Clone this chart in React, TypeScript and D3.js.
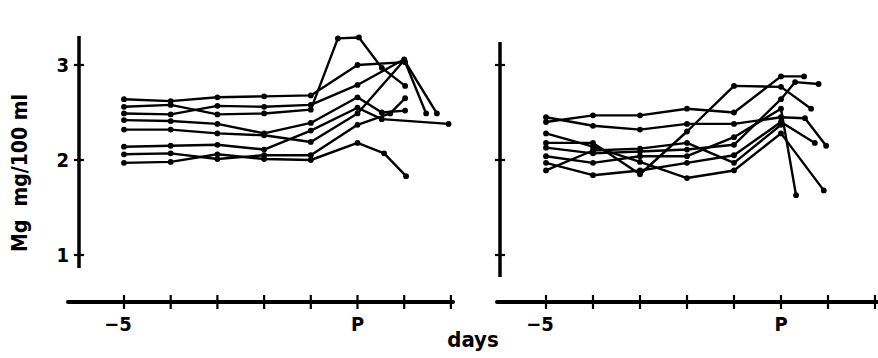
import * as d3 from "d3";

// Mg (mg/100 ml) per animal, [day relative to P, value]
const left1 = [[-5, 2.64], [-4, 2.62], [-3, 2.66], [-2, 2.67], [-1, 2.68], [0, 3.0], [1.02, 3.03], [1.47, 2.49]];
const left2 = [[-5, 2.56], [-4, 2.58], [-3, 2.48], [-2, 2.49], [-1, 2.53], [-0.42, 3.28], [0.03, 3.29], [0.52, 2.97], [1.02, 2.78]];
const left3 = [[-5, 2.49], [-4, 2.48], [-3, 2.57], [-2, 2.56], [-1, 2.58], [0, 2.79], [1.0, 3.06]];
const left4 = [[-5, 2.42], [-4, 2.41], [-3, 2.38], [-2, 2.28], [-1, 2.39], [0, 2.66], [0.52, 2.5], [1.02, 2.52]];
const left5 = [[-5, 2.32], [-4, 2.32], [-3, 2.28], [-2, 2.26], [-1, 2.19], [0, 2.49], [1.0, 3.05], [1.7, 2.49]];
const left6 = [[-5, 2.14], [-4, 2.15], [-3, 2.16], [-2, 2.11], [-1, 2.31], [0, 2.55], [0.52, 2.43], [1.95, 2.38]];
const left7 = [[-5, 2.06], [-4, 2.07], [-3, 2.01], [-2, 2.05], [-1, 2.05], [0, 2.37], [0.7, 2.49], [1.02, 2.65]];
const left8 = [[-5, 1.97], [-4, 1.98], [-3, 2.06], [-2, 2.01], [-1, 2.0], [0, 2.18], [0.57, 2.07], [1.04, 1.83]];

const right1 = [[-5, 2.4], [-4, 2.47], [-3, 2.47], [-2, 2.54], [-1, 2.5], [0, 2.88], [0.49, 2.88]];
const right2 = [[-5, 2.45], [-4, 2.36], [-3, 2.32], [-2, 2.38], [-1, 2.38], [0, 2.45], [0.51, 2.44], [0.96, 2.15]];
const right3 = [[-5, 2.28], [-4, 2.14], [-3, 1.98], [-2, 1.81], [-1, 1.89], [0, 2.28], [0.91, 1.68]];
const right4 = [[-5, 2.18], [-4, 2.18], [-3, 1.85], [-2, 2.3], [-1, 2.78], [0, 2.77], [0.64, 2.54]];
const right5 = [[-5, 2.13], [-4, 2.07], [-3, 2.09], [-2, 2.11], [-1, 2.16], [0, 2.64], [0.3, 2.82], [0.8, 2.8]];
const right6 = [[-5, 2.04], [-4, 1.97], [-3, 2.04], [-2, 2.04], [-1, 2.24], [0, 2.54], [0.32, 1.63]];
const right7 = [[-5, 1.97], [-4, 1.84], [-3, 1.89], [-2, 1.97], [-1, 2.05], [0, 2.4], [0.72, 2.18]];
const right8 = [[-5, 1.89], [-4, 2.1], [-3, 2.12], [-2, 2.18], [-1, 1.97], [0, 2.37]];

const leftSeries = [left1, left2, left3, left4, left5, left6, left7, left8];
const rightSeries = [right1, right2, right3, right4, right5, right6, right7, right8];

const xTickDays = [-5, -4, -3, -2, -1, 0, 1, 2];
const xTickLabels = [{ day: -5, text: "\u22125" }, { day: 0, text: "P" }];
const yTicks = [1, 2, 3];

const font = "'DejaVu Sans Condensed', 'Liberation Sans Narrow', 'Liberation Sans', Arial, sans-serif";

const y = d3.scaleLinear().domain([1, 3]).range([255, 65]);

const Panel = ({ series, x, axisX, axisStart, axisEnd, yTop, yBottom, labels }) => {
  const line = d3.line<number[]>()
    .x(d => x(d[0]))
    .y(d => y(d[1]));
  const axisY = 302;
  return (
    <g>
      {/* y axis */}
      <line x1={axisX} x2={axisX} y1={yTop} y2={yBottom} stroke="#000" strokeWidth={3.5} />
      {yTicks.map(t => (
        <line key={t} x1={axisX - 5} x2={axisX + 5} y1={y(t)} y2={y(t)} stroke="#000" strokeWidth={2.2} />
      ))}
      {labels && yTicks.map(t => (
        <text key={"l" + t} x={axisX - 10} y={y(t) + 7} textAnchor="end"
          fontFamily={font} fontWeight="bold" fontSize={20}>{t}</text>
      ))}
      {/* x axis */}
      <line x1={axisStart} x2={axisEnd} y1={axisY} y2={axisY} stroke="#000" strokeWidth={4} strokeLinecap="round" />
      {xTickDays.map(t => (
        <line key={t} x1={x(t)} x2={x(t)} y1={axisY - 7} y2={axisY + 7} stroke="#000" strokeWidth={2.2} />
      ))}
      {xTickLabels.map(t => (
        <text key={t.text} x={x(t.day) - (t.day < 0 ? 6 : 0)} y={331} textAnchor="middle"
          fontFamily={font} fontWeight="bold" fontSize={20}>{t.text}</text>
      ))}
      {/* animals */}
      {series.map((s, i) => (
        <g key={i}>
          <path d={line(s)} fill="none" stroke="#000" strokeWidth={2.4} strokeLinejoin="round" />
          {s.map((d, j) => (
            <circle key={j} cx={x(d[0])} cy={y(d[1])} r={2.9} fill="#000" />
          ))}
        </g>
      ))}
    </g>
  );
};

export default function App() {
  const xLeft = d3.scaleLinear().domain([-5, 0]).range([124, 357.5]);
  const xRight = d3.scaleLinear().domain([-5, 0]).range([546, 781]);
  return (
    <svg width={878} height={358} viewBox="0 0 878 358"
      style={{ position: "absolute", left: 0, top: 0, background: "#fff" }}>
      <Panel series={leftSeries} x={xLeft} axisX={79} axisStart={68} axisEnd={453}
        yTop={36} yBottom={268} labels={true} />
      <Panel series={rightSeries} x={xRight} axisX={500} axisStart={497} axisEnd={880}
        yTop={42} yBottom={277} labels={false} />
      <text x={473} y={347} textAnchor="middle" fontFamily={font} fontWeight="bold" fontSize={22}>days</text>
      <text transform="translate(27,173) rotate(-90)" textAnchor="middle" fontFamily={font}
        fontWeight="bold" fontSize={21} xmlSpace="preserve">{"Mg  mg/100 ml"}</text>
    </svg>
  );
}
